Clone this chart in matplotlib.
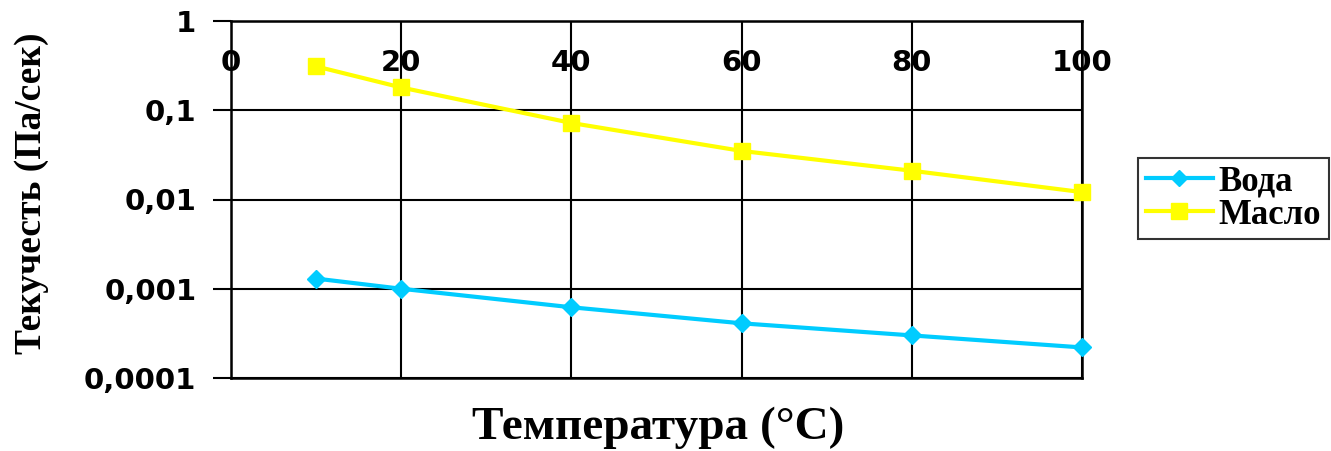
import matplotlib
matplotlib.use("Agg")
import matplotlib.pyplot as plt
from matplotlib.lines import Line2D

# Data
temps = [10, 20, 40, 60, 80, 100]
water = [0.0013, 0.001, 0.00062, 0.00041, 0.0003, 0.00022]
oil = [0.31, 0.18, 0.072, 0.035, 0.021, 0.0121]
series_names = ["Вода", "Масло"]
x_ticks = [0, 20, 40, 60, 80, 100]
x_tick_labels = ["0", "20", "40", "60", "80", "100"]
y_ticks = [1, 0.1, 0.01, 0.001, 0.0001]
y_tick_labels = ["1", "0,1", "0,01", "0,001", "0,0001"]
x_label = "Температура (°C)"
y_label = "Текучесть (Па/сек)"

W, H = 1331, 451
fig = plt.figure(figsize=(W / 100, H / 100), dpi=100)
ax = fig.add_axes([231 / W, 1 - 378 / H, (1082 - 231) / W, (378 - 21) / H])

ax.set_yscale("log")
ax.set_xlim(0, 100)
ax.set_ylim(0.0001, 1)

water_c = "#00CCFF"
oil_c = "#FFFF00"
ax.plot(temps, water, color=water_c, lw=3, marker="D", ms=9, mec=water_c, zorder=3, clip_on=False)
ax.plot(temps, oil, color=oil_c, lw=3, marker="s", ms=12, mec=oil_c, zorder=3, clip_on=False)

# grid
ax.set_xticks(x_ticks)
ax.set_xticklabels(x_tick_labels, fontsize=21, fontweight="bold", family="DejaVu Sans")
ax.set_yticks(y_ticks)
ax.set_yticklabels(y_tick_labels, fontsize=21, fontweight="bold", family="DejaVu Sans")
ax.minorticks_off()
ax.grid(True, color="black", lw=1.5, zorder=1)
ax.xaxis.tick_top()
ax.tick_params(axis="x", length=0, pad=-40)
ax.tick_params(axis="y", length=13, width=1.5, pad=12, color="black")
ax.set_axisbelow(True)
for s in ax.spines.values():
    s.set_linewidth(1.8)
    s.set_color("black")

fig.text(658 / W, 1 - 428 / H, x_label, ha="center", va="center", fontsize=34,
         fontweight="bold", family="Liberation Serif")
fig.text(32 / W, 1 - 193 / H, y_label, ha="center", va="center", rotation=90,
         fontsize=27, fontweight="bold", family="Liberation Serif")

handles = [
    Line2D([], [], color=water_c, lw=3, marker="D", ms=8, mec=water_c),
    Line2D([], [], color=oil_c, lw=3, marker="s", ms=12, mec=oil_c),
]
leg = fig.legend(handles, series_names, loc="upper left", bbox_to_anchor=(1138 / W, 1 - 158 / H),
                 prop={"family": "Liberation Serif", "weight": "bold", "size": 25},
                 frameon=True, fancybox=False, edgecolor="black", handlelength=1.95,
                 handletextpad=0.15, labelspacing=0.0, borderpad=0.22, borderaxespad=0)
leg.get_frame().set_linewidth(1.5)

fig.savefig("out.png", dpi=100)
